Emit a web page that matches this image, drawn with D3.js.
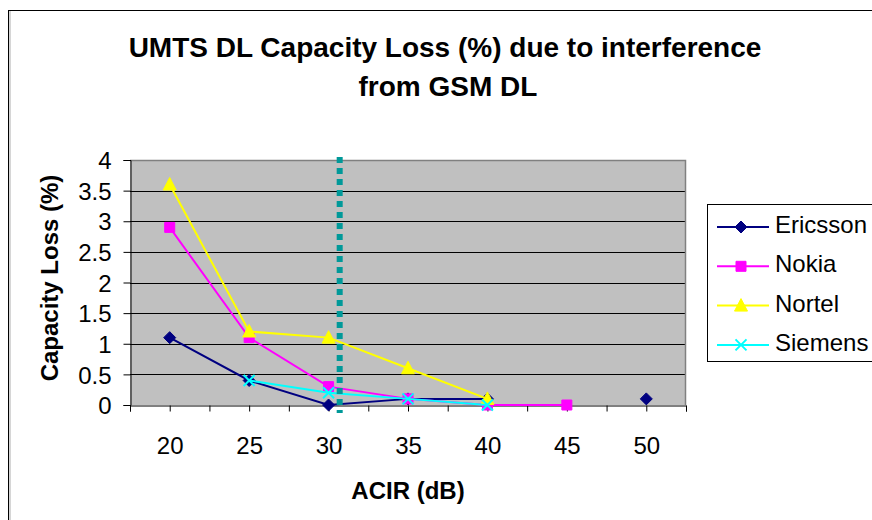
<!DOCTYPE html>
<meta charset="utf-8">
<script src="https://d3js.org/d3.v7.min.js"></script>
<style>
  body { margin: 0; background: #fff; }
  text { font-family: Arial, "Liberation Sans", sans-serif; fill: #000; }
</style>
<body>
<div id="chart"></div>
<script>

// data
var categories = [20, 25, 30, 35, 40, 45, 50];
var ericsson = [1.1, 0.4, 0, 0.1, 0.1, null, 0.1];
var nokia = [2.9, 1.1, 0.3, 0.1, 0, 0, null];
var nortel = [3.6, 1.2, 1.1, 0.6, 0.1, null, null];
var siemens = [null, 0.4, 0.2, 0.1, 0, null, null];
var seriesNames = ["Ericsson", "Nokia", "Nortel", "Siemens"];
var yTicks = [0, 0.5, 1, 1.5, 2, 2.5, 3, 3.5, 4];
var acirLimit = 30.7;   // dotted reference line

var series = [
  { name: "Ericsson", values: ericsson, color: "#000080", marker: "diamond" },
  { name: "Nokia", values: nokia, color: "#ff00ff", marker: "square" },
  { name: "Nortel", values: nortel, color: "#ffff00", marker: "triangle" },
  { name: "Siemens", values: siemens, color: "#00ffff", marker: "cross" }
];

var W = 872, H = 520;
var plot = { left: 130, top: 160, right: 686, bottom: 405 };

var svg = d3.select("#chart").append("svg")
  .attr("width", W)
  .attr("height", H);

// outer chart border
svg.append("rect")
  .attr("x", 8.5).attr("y", 10.5)
  .attr("width", 900).attr("height", 600)
  .attr("fill", "none").attr("stroke", "#000");
svg.append("line")
  .attr("x1", 10).attr("x2", 10).attr("y1", 11).attr("y2", H)
  .attr("stroke", "#c8c8c8").attr("stroke-width", 1.5);

// title
svg.append("text")
  .attr("x", 445).attr("y", 57)
  .attr("text-anchor", "middle")
  .style("font-size", "28px").style("font-weight", "bold")
  .text("UMTS DL Capacity Loss (%) due to interference");
svg.append("text")
  .attr("x", 448).attr("y", 96)
  .attr("text-anchor", "middle")
  .style("font-size", "28px").style("font-weight", "bold")
  .text("from GSM DL");

// scales: category axis spans half a step either side
var x = d3.scaleLinear()
  .domain([categories[0] - 2.5, categories[categories.length - 1] + 2.5])
  .range([plot.left, plot.right]);
var y = d3.scaleLinear()
  .domain([0, 4])
  .range([plot.bottom, plot.top]);

// plot area
svg.append("rect")
  .attr("x", plot.left).attr("y", plot.top)
  .attr("width", plot.right - plot.left).attr("height", plot.bottom - plot.top)
  .attr("fill", "#c0c0c0");

// gridlines
svg.append("g")
  .selectAll("line")
  .data(yTicks.slice(1, -1))
  .enter().append("line")
  .attr("x1", plot.left).attr("x2", plot.right)
  .attr("y1", function(d) { return Math.round(y(d)) + 0.5; })
  .attr("y2", function(d) { return Math.round(y(d)) + 0.5; })
  .attr("stroke", "#000");

// plot border top / right
svg.append("path")
  .attr("d", "M" + plot.left + "," + (plot.top + 0.5) + "H" + (plot.right - 0.5) + "V" + plot.bottom)
  .attr("fill", "none")
  .attr("stroke", "#808080").attr("stroke-width", 1.5);

// y axis
var yAxis = svg.append("g")
  .attr("transform", "translate(" + (plot.left + 0.5) + ",0)")
  .call(d3.axisLeft(y).tickValues(yTicks).tickSize(7).tickPadding(12)
    .tickFormat(d3.format("")));
yAxis.select(".domain").attr("stroke", "#000");
yAxis.selectAll(".tick line").attr("stroke", "#000");
yAxis.selectAll("text").style("font-size", "24px").attr("dy", "0.36em");

// x axis: ticks at categories and between them
var xTickVals = [];
categories.forEach(function(c, i) {
  xTickVals.push(c - 2.5);
  xTickVals.push(c);
});
xTickVals.push(categories[categories.length - 1] + 2.5);

var xAxis = svg.append("g")
  .attr("transform", "translate(0," + (plot.bottom + 0.5) + ")")
  .call(d3.axisBottom(x).tickValues(xTickVals).tickSize(6).tickPadding(25)
    .tickFormat(function(d) { return categories.indexOf(d) >= 0 ? d : ""; }));
xAxis.select(".domain").attr("stroke", "#000");
xAxis.selectAll(".tick line").attr("stroke", "#000");
xAxis.selectAll("text").style("font-size", "24px");

// axis titles
svg.append("text")
  .attr("transform", "translate(58," + 278 + ") rotate(-90)")
  .attr("text-anchor", "middle")
  .style("font-size", "24px").style("font-weight", "bold")
  .text("Capacity Loss (%)");
svg.append("text")
  .attr("x", (plot.left + plot.right) / 2).attr("y", 499)
  .attr("text-anchor", "middle")
  .style("font-size", "24px").style("font-weight", "bold")
  .text("ACIR (dB)");

// marker shapes
function markerPath(type) {
  if (type == "diamond") return "M0,-6L6,0L0,6L-6,0Z";
  if (type == "square") return "M-5,-5H5V5H-5Z";
  if (type == "triangle") return "M0,-7L6.5,5.5L-6.5,5.5Z";
  return "M-5.5,-5.5L5.5,5.5M-5.5,5.5L5.5,-5.5";
}
function drawMarker(g, type, color) {
  if (type == "cross") {
    g.append("path").attr("d", markerPath(type))
      .attr("stroke", color).attr("stroke-width", 2).attr("fill", "none");
  } else {
    g.append("path").attr("d", markerPath(type))
      .attr("fill", color).attr("stroke", color).attr("stroke-width", 1);
  }
}

var line = d3.line()
  .defined(function(d) { return d.v != null; })
  .x(function(d) { return x(d.c); })
  .y(function(d) { return y(d.v); });

series.forEach(function(s) {
  var pts = categories.map(function(c, i) { return { c: c, v: s.values[i] }; });
  var g = svg.append("g");
  g.append("path")
    .datum(pts)
    .attr("d", line)
    .attr("fill", "none")
    .attr("stroke", s.color)
    .attr("stroke-width", 2);
  pts.filter(function(d) { return d.v != null; }).forEach(function(d) {
    var m = g.append("g").attr("transform", "translate(" + x(d.c) + "," + y(d.v) + ")");
    drawMarker(m, s.marker, s.color);
  });
});

// dotted reference line
svg.append("line")
  .attr("x1", x(acirLimit)).attr("x2", x(acirLimit))
  .attr("y1", plot.top - 3).attr("y2", plot.bottom + 8)
  .attr("stroke", "#009999")
  .attr("stroke-width", 6)
  .attr("stroke-dasharray", "6,5");

// legend
var legend = svg.append("g");
legend.append("rect")
  .attr("x", 707.5).attr("y", 204.5)
  .attr("width", 200).attr("height", 157)
  .attr("fill", "#fff").attr("stroke", "#000");
series.forEach(function(s, i) {
  var ly = 227 + i * 39.3;
  legend.append("line")
    .attr("x1", 717).attr("x2", 769)
    .attr("y1", ly).attr("y2", ly)
    .attr("stroke", s.color).attr("stroke-width", 2);
  var m = legend.append("g").attr("transform", "translate(741," + ly + ")");
  drawMarker(m, s.marker, s.color);
  legend.append("text")
    .attr("x", 775).attr("y", ly + 6)
    .style("font-size", "24px")
    .text(seriesNames[i]);
});

</script>
</body>
